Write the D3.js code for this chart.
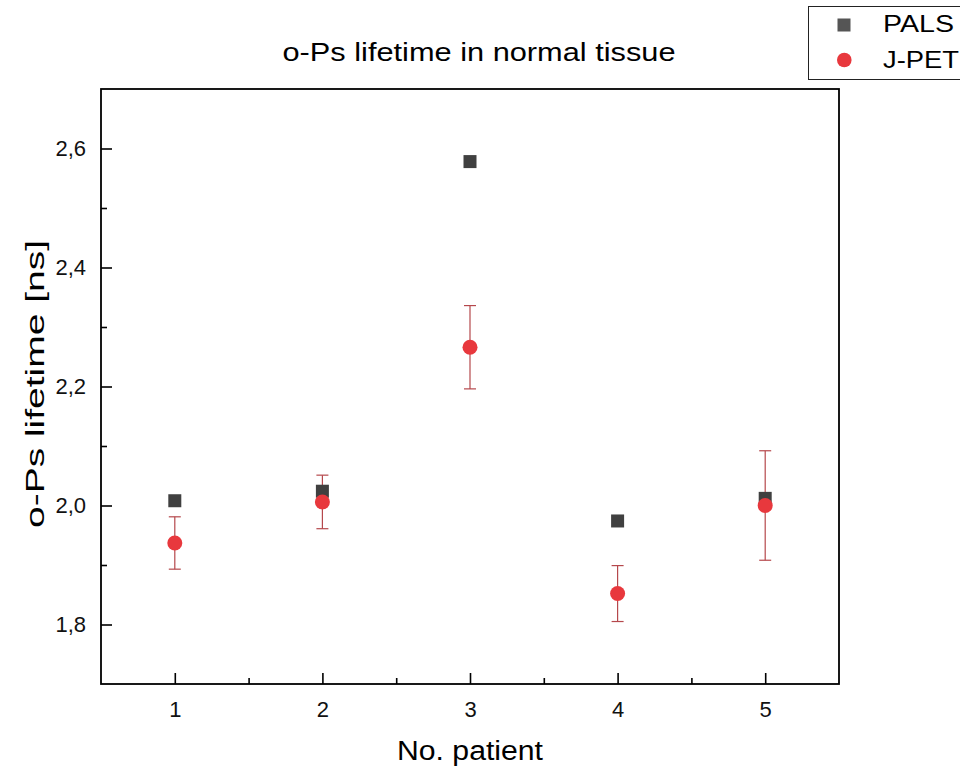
<!DOCTYPE html>
<html>
<head>
<meta charset="utf-8">
<script src="https://cdn.jsdelivr.net/npm/d3@7"></script>
<style>
  body { margin: 0; background: #fff; }
  text { font-family: "Liberation Sans", Arial, sans-serif; }
  .tick text { font-size: 22px; }
</style>
</head>
<body>
<script>
var w = 960;
var h = 772;

// data
var patients = [1, 2, 3, 4, 5];
var palsValues = [2.008, 2.024, 2.578, 1.974, 2.012];
var jpetValues = [1.937, 2.006, 2.266, 1.852, 2.0];
var jpetErrors = [0.044, 0.045, 0.070, 0.047, 0.092];
var xTicks = [1, 2, 3, 4, 5];
var yTicks = [1.8, 2.0, 2.2, 2.4, 2.6];
var seriesNames = ["PALS", "J-PET"];

var plotLeft = 101, plotRight = 839, plotTop = 89, plotBottom = 684;

var xScale = d3.scaleLinear()
    .domain([0.5, 5.5])
    .range([plotLeft, plotRight]);

var yScale = d3.scaleLinear()
    .domain([1.7, 2.7])
    .range([plotBottom, plotTop]);

var svg = d3.select("body")
    .append("svg")
    .attr("width", w)
    .attr("height", h);

var fmt = function (d) {
    return d3.format(".1f")(d).replace(".", ",");
};

// axes, ticks pointing inward
svg.append("g")
    .attr("class", "axis")
    .attr("transform", "translate(0," + plotBottom + ")")
    .call(d3.axisBottom(xScale).tickValues(xTicks).tickFormat(d3.format("d"))
        .tickSizeInner(-11).tickSizeOuter(0).tickPadding(17));

svg.append("g")
    .attr("class", "axis")
    .attr("transform", "translate(0," + plotBottom + ")")
    .call(d3.axisBottom(xScale).tickValues([1.5, 2.5, 3.5, 4.5])
        .tickSizeInner(-6).tickSizeOuter(0).tickFormat(""));

svg.append("g")
    .attr("class", "axis")
    .attr("transform", "translate(" + plotLeft + ",0)")
    .call(d3.axisLeft(yScale).tickValues(yTicks).tickFormat(fmt)
        .tickSizeInner(-11).tickSizeOuter(0).tickPadding(15));

svg.append("g")
    .attr("class", "axis")
    .attr("transform", "translate(" + plotLeft + ",0)")
    .call(d3.axisLeft(yScale).tickValues([1.9, 2.1, 2.3, 2.5])
        .tickSizeInner(-6).tickSizeOuter(0).tickFormat(""));

svg.selectAll(".axis")
    .attr("font-size", 22)
    .attr("font-family", "Liberation Sans, Arial, sans-serif");
svg.selectAll(".domain").remove();
svg.selectAll(".tick line").attr("stroke", "#000").attr("stroke-width", 1.6);
svg.selectAll(".tick text")
    .attr("fill", "#111")
    .attr("font-size", 22);

// frame
svg.append("rect")
    .attr("x", plotLeft)
    .attr("y", plotTop)
    .attr("width", plotRight - plotLeft)
    .attr("height", plotBottom - plotTop)
    .attr("fill", "none")
    .attr("stroke", "#000")
    .attr("stroke-width", 1.8);

// error bars
var err = svg.append("g").attr("stroke", "#b5484c").attr("stroke-width", 1.2);
patients.forEach(function (p, i) {
    var x = xScale(p);
    var y0 = yScale(jpetValues[i] - jpetErrors[i]);
    var y1 = yScale(jpetValues[i] + jpetErrors[i]);
    err.append("line").attr("x1", x).attr("x2", x).attr("y1", y0).attr("y2", y1);
    err.append("line").attr("x1", x - 6).attr("x2", x + 6).attr("y1", y0).attr("y2", y0);
    err.append("line").attr("x1", x - 6).attr("x2", x + 6).attr("y1", y1).attr("y2", y1);
});

// PALS squares
svg.selectAll("rect.pals")
    .data(patients)
    .enter()
    .append("rect")
    .attr("class", "pals")
    .attr("x", function (d) { return xScale(d) - 6.5; })
    .attr("y", function (d, i) { return yScale(palsValues[i]) - 6.5; })
    .attr("width", 13)
    .attr("height", 13)
    .attr("fill", "#404040");

// J-PET circles
svg.selectAll("circle.jpet")
    .data(patients)
    .enter()
    .append("circle")
    .attr("class", "jpet")
    .attr("cx", function (d) { return xScale(d); })
    .attr("cy", function (d, i) { return yScale(jpetValues[i]); })
    .attr("r", 7.5)
    .attr("fill", "#e8383d");

// titles (the source image is a bit stretched, so fix the text lengths)
svg.append("text")
    .attr("x", 479)
    .attr("y", 61)
    .attr("text-anchor", "middle")
    .attr("textLength", 393)
    .attr("lengthAdjust", "spacingAndGlyphs")
    .style("font-size", "26px")
    .text("o-Ps lifetime in normal tissue");

svg.append("text")
    .attr("x", 470)
    .attr("y", 760)
    .attr("text-anchor", "middle")
    .attr("textLength", 146)
    .attr("lengthAdjust", "spacingAndGlyphs")
    .style("font-size", "27px")
    .text("No. patient");

svg.append("text")
    .attr("transform", "translate(44,384) rotate(-90)")
    .attr("text-anchor", "middle")
    .attr("textLength", 288)
    .attr("lengthAdjust", "spacingAndGlyphs")
    .style("font-size", "26px")
    .text("o-Ps lifetime [ns]");

// legend
var legend = svg.append("g");
legend.append("rect")
    .attr("x", 808.5)
    .attr("y", 6.5)
    .attr("width", 160)
    .attr("height", 73)
    .attr("fill", "#fff")
    .attr("stroke", "#222")
    .attr("stroke-width", 1);

legend.append("rect")
    .attr("x", 837.5)
    .attr("y", 18.5)
    .attr("width", 13)
    .attr("height", 13)
    .attr("fill", "#555");

legend.append("circle")
    .attr("cx", 844.3)
    .attr("cy", 60)
    .attr("r", 7.3)
    .attr("fill", "#e8383d");

legend.selectAll("text")
    .data(seriesNames)
    .enter()
    .append("text")
    .attr("x", 883)
    .attr("y", function (d, i) { return 32 + i * 36; })
    .attr("textLength", function (d) { return d === "PALS" ? 71 : 76; })
    .attr("lengthAdjust", "spacingAndGlyphs")
    .style("font-size", "24px")
    .text(function (d) { return d; });
</script>
</body>
</html>
